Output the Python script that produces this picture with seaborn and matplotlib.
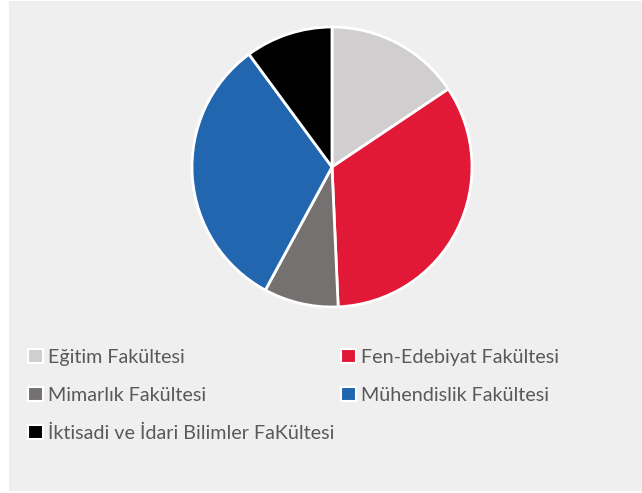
import matplotlib
matplotlib.use("Agg")
import matplotlib.pyplot as plt
import matplotlib.patches as mpatches
import seaborn as sns

categories = ["Eğitim Fakültesi", "Fen-Edebiyat Fakültesi", "Mimarlık Fakültesi",
              "Mühendislik Fakültesi", "İktisadi ve İdari Bilimler FaKültesi"]
values = [15.6, 33.7, 8.6, 32.0, 10.1]
colors = ["#d0cece", "#e21936", "#767171", "#2166ae", "#000000"]

sns.set_theme(style="white")
plt.rcParams['font.family'] = ['Lato', 'DejaVu Sans']

W, H = 642, 493
fig = plt.figure(figsize=(W / 100, H / 100), dpi=100, facecolor="white")

# gray panel
fig.patches.append(mpatches.Rectangle((9 / W, 2 / H), 1 - 9 / W, 1 - 3 / H,
                                      transform=fig.transFigure, facecolor="#efefef",
                                      edgecolor="none", zorder=-10))

cx, cy, r = 332, 167, 140
ax = fig.add_axes([(cx - r) / W, (H - cy - r) / H, 2 * r / W, 2 * r / H])
ax.set_zorder(5)
ax.set_facecolor("none")
wedges, _ = ax.pie(values, colors=colors, startangle=90, counterclock=False,
                   wedgeprops=dict(edgecolor="white", linewidth=2))
ax.set_xlim(-1.0, 1.0)
ax.set_ylim(-1.0, 1.0)
ax.set_aspect("equal")
ax.axis("off")

order = [0, 2, 4, 1, 3]
handles = [mpatches.Patch(facecolor=colors[i], edgecolor="white", linewidth=1.5) for i in order]
labels = [categories[i] for i in order]
leg = fig.legend(handles, labels, ncol=2, loc="upper left",
                 bbox_to_anchor=(20 / W, 1 - 341 / H), frameon=False,
                 fontsize=14.2, labelcolor="#595959", handlelength=0.75, handleheight=0.75,
                 handletextpad=0.25, columnspacing=0.35, labelspacing=1.05, borderaxespad=0)
leg.set_zorder(6)

fig.savefig("out.png", dpi=100, facecolor="white")
